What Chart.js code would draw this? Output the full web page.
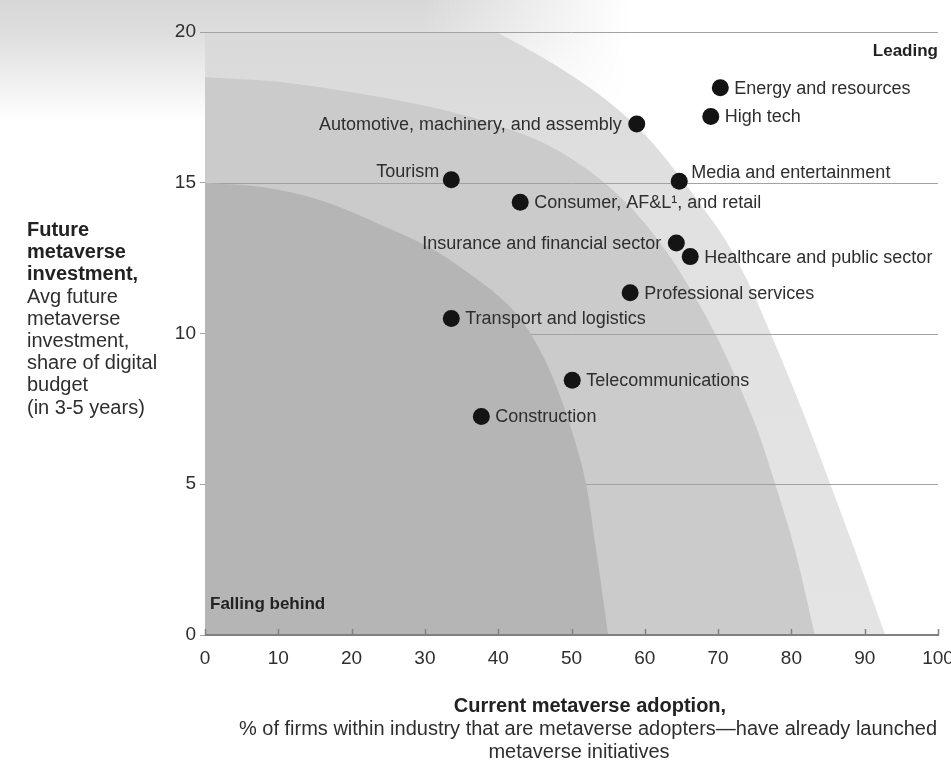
<!DOCTYPE html>
<html>
<head>
<meta charset="utf-8">
<script src="https://cdn.jsdelivr.net/npm/chart.js@4"></script>
<style>
  html, body { margin: 0; padding: 0; background: #ffffff; }
  #wrap { width: 951px; height: 761px; position: relative; }
</style>
</head>
<body>
<div id="wrap"><canvas id="chart"></canvas></div>
<script>
// Industries: current metaverse adoption (% of firms) vs. future investment (% of digital budget)
const industries = [
  'Energy and resources',
  'High tech',
  'Automotive, machinery, and assembly',
  'Tourism',
  'Media and entertainment',
  'Consumer, AF&L\u00b9, and retail',
  'Insurance and financial sector',
  'Healthcare and public sector',
  'Professional services',
  'Transport and logistics',
  'Telecommunications',
  'Construction'
];
const adoption   = [70.3, 69.0, 58.9, 33.6, 64.7, 43.0, 64.3, 66.2, 58.0, 33.6, 50.1, 37.7];
const investment = [18.15, 17.2, 16.95, 15.1, 15.05, 14.35, 13.0, 12.55, 11.35, 10.5, 8.45, 7.25];

// Where each industry name sits relative to its dot
const labelSide = ['right', 'right', 'left', 'above-left', 'above-right', 'right',
                   'left', 'right', 'right', 'right', 'right', 'right'];

const xTickValues = [0, 10, 20, 30, 40, 50, 60, 70, 80, 90, 100];
const yTickValues = [0, 5, 10, 15, 20];

// Outer edges of the three shaded maturity bands
const behindEdgeX  = [0, 8, 16, 24, 31, 36, 40, 43, 45, 47, 49, 50.5, 52, 53.5, 55];
const behindEdgeY  = [15, 14.85, 14.4, 13.6, 12.8, 12.0, 11.25, 10.5, 9.75, 8.8, 7.55, 6.4, 5.0, 2.6, 0];
const middleEdgeX  = [0, 10, 20, 30, 38, 45, 50, 54, 58, 61, 64, 67, 70, 73, 75.5, 77.8, 80.5, 83.2];
const middleEdgeY  = [18.5, 18.35, 18.0, 17.55, 17.05, 16.45, 15.8, 15.1, 14.2, 13.35, 12.35, 11.15, 9.8, 8.2, 6.7, 5.0, 2.8, 0];
const leadingEdgeX = [0, 20, 30, 38, 45, 51, 56, 60, 64, 68, 71, 74, 77, 80, 83, 86, 89.5, 92.8];
const leadingEdgeY = [22, 21.6, 21.0, 20.2, 19.3, 18.4, 17.5, 16.6, 15.45, 14.15, 13.1, 11.75, 10.1, 8.35, 6.5, 4.55, 2.25, 0];

const yTitleBold = ['Future', 'metaverse', 'investment,'];
const yTitleText = ['Avg future', 'metaverse', 'investment,', 'share of digital', 'budget', '(in 3-5 years)'];
const xTitleBold = 'Current metaverse adoption,';
const xTitleText = ['% of firms within industry that are metaverse adopters\u2014have already launched',
                    'metaverse initiatives'];

const FONT = '"Liberation Sans", Arial, sans-serif';
const TEXT = '#2e2e2e';
const AXIS = '#808080';

const toPoints = (xs, ys) => xs.map((x, i) => ({ x, y: ys[i] }));

const bandStyle = {
  type: 'line',
  showLine: true,
  pointRadius: 0,
  borderWidth: 0,
  fill: 'origin',
  cubicInterpolationMode: 'monotone'
};

// Soft grey glow in the upper-left corner behind the chart
const hazePlugin = {
  id: 'haze',
  beforeDraw(chart) {
    const ctx = chart.ctx;
    const W = 700, H = 120;
    const off = document.createElement('canvas');
    off.width = W; off.height = H;
    const o = off.getContext('2d');
    const v = o.createLinearGradient(0, 0, 0, H);
    v.addColorStop(0, '#d7d7d7');
    v.addColorStop(0.25, '#dddddd');
    v.addColorStop(0.5, '#e8e8e8');
    v.addColorStop(0.78, '#f4f4f4');
    v.addColorStop(1, '#ffffff');
    o.fillStyle = v;
    o.fillRect(0, 0, W, H);
    o.globalCompositeOperation = 'destination-in';
    const h = o.createLinearGradient(0, 0, W, 0);
    h.addColorStop(0, 'rgba(0,0,0,1)');
    h.addColorStop(0.6, 'rgba(0,0,0,1)');
    h.addColorStop(0.9, 'rgba(0,0,0,0)');
    o.fillStyle = h;
    o.fillRect(0, 0, W, H);
    ctx.save();
    ctx.fillStyle = '#ffffff';
    ctx.fillRect(0, 0, chart.width, chart.height);
    ctx.drawImage(off, 0, 0);
    ctx.restore();
  }
};

// Horizontal grid lines: drawn over the outer bands but under the "falling behind" band
const bandGridPlugin = {
  id: 'bandGrid',
  afterDatasetDraw(chart, args) {
    if (args.index !== 2) return;
    const { ctx, chartArea } = chart;
    const y = chart.scales.y;
    ctx.save();
    ctx.strokeStyle = '#a2a2a2';
    ctx.lineWidth = 1;
    yTickValues.forEach(v => {
      if (v === 0) return;
      const py = Math.round(y.getPixelForValue(v)) + 0.5;
      ctx.beginPath();
      ctx.moveTo(chartArea.left, py);
      ctx.lineTo(chartArea.right, py);
      ctx.stroke();
    });
    ctx.restore();
  }
};

// Industry names, corner captions
const labelPlugin = {
  id: 'pointLabels',
  afterDatasetsDraw(chart) {
    const { ctx, chartArea } = chart;
    const meta = chart.getDatasetMeta(0);
    ctx.save();
    ctx.font = '18px ' + FONT;
    ctx.fillStyle = TEXT;
    ctx.textBaseline = 'middle';
    meta.data.forEach((pt, i) => {
      const side = labelSide[i];
      let x = pt.x, y = pt.y;
      if (side === 'right') { ctx.textAlign = 'left'; x += 14; }
      else if (side === 'left') { ctx.textAlign = 'right'; x -= 15; }
      else if (side === 'above-left') { ctx.textAlign = 'right'; x -= 12; y -= 9; }
      else { ctx.textAlign = 'left'; x += 12; y -= 9; }
      ctx.fillText(industries[i], x, y + 1);
    });
    ctx.font = 'bold 17px ' + FONT;
    ctx.fillStyle = '#222';
    ctx.textAlign = 'right';
    ctx.fillText('Leading', chartArea.right, chartArea.top + 19);
    ctx.textAlign = 'left';
    ctx.fillText('Falling behind', chartArea.left + 5, chartArea.bottom - 31);
    ctx.restore();
  }
};

// Baseline, inward tick marks on the x axis and the two axis titles
const axisTextPlugin = {
  id: 'axisText',
  afterDraw(chart) {
    const { ctx, chartArea } = chart;
    const x = chart.scales.x;
    ctx.save();
    ctx.strokeStyle = AXIS;
    ctx.lineWidth = 2;
    ctx.beginPath();
    ctx.moveTo(chartArea.left, chartArea.bottom);
    ctx.lineTo(chartArea.right + 1, chartArea.bottom);
    ctx.stroke();
    ctx.lineWidth = 1.5;
    xTickValues.forEach(v => {
      const px = Math.round(x.getPixelForValue(v)) + 0.5;
      ctx.beginPath();
      ctx.moveTo(px, chartArea.bottom);
      ctx.lineTo(px, chartArea.bottom - 6);
      ctx.stroke();
    });

    ctx.fillStyle = '#222';
    ctx.textAlign = 'left';
    ctx.textBaseline = 'alphabetic';
    let by = 236;
    ctx.font = 'bold 20px ' + FONT;
    yTitleBold.forEach(t => { ctx.fillText(t, 27, by); by += 22.2; });
    ctx.font = '20px ' + FONT;
    ctx.fillStyle = TEXT;
    yTitleText.forEach(t => { ctx.fillText(t, 27, by); by += 22.2; });

    ctx.textAlign = 'center';
    ctx.fillStyle = '#222';
    ctx.font = 'bold 20px ' + FONT;
    ctx.fillText(xTitleBold, 590, 712);
    ctx.fillStyle = TEXT;
    ctx.font = '20px ' + FONT;
    ctx.fillText(xTitleText[0], 588, 735);
    ctx.fillText(xTitleText[1], 579, 758);
    ctx.restore();
  }
};

new Chart(document.getElementById('chart'), {
  type: 'scatter',
  data: {
    datasets: [
      {
        label: 'Industries',
        data: toPoints(adoption, investment),
        backgroundColor: '#141414',
        borderWidth: 0,
        pointRadius: 8.5,
        pointHoverRadius: 8.5
      },
      Object.assign({ label: 'Falling behind', data: toPoints(behindEdgeX, behindEdgeY),
                      backgroundColor: '#b5b5b5' }, bandStyle),
      Object.assign({ label: 'Middle', data: toPoints(middleEdgeX, middleEdgeY),
                      backgroundColor: '#cbcbcb' }, bandStyle),
      Object.assign({ label: 'Leading', data: toPoints(leadingEdgeX, leadingEdgeY),
                      backgroundColor: (c) => {
                        const area = c.chart.chartArea;
                        if (!area) return '#e2e2e2';
                        const g = c.chart.ctx.createLinearGradient(0, area.top, 0, area.bottom);
                        g.addColorStop(0, '#d9d9d9');
                        g.addColorStop(0.3, '#e1e1e1');
                        g.addColorStop(1, '#e4e4e4');
                        return g;
                      } }, bandStyle)
    ]
  },
  options: {
    responsive: true,
    maintainAspectRatio: false,
    devicePixelRatio: 1,
    animation: false,
    events: [],
    layout: { padding: { left: 0, right: 13, top: 32, bottom: 0 } },
    plugins: { legend: { display: false }, tooltip: { enabled: false } },
    scales: {
      x: {
        type: 'linear',
        min: 0, max: 100,
        afterFit: (s) => { s.height = 126; s.paddingRight = 0; s.paddingLeft = 0; },
        afterBuildTicks: (s) => { s.ticks = xTickValues.map(v => ({ value: v })); },
        grid: { display: false, drawTicks: false },
        border: { display: false },
        ticks: { color: TEXT, font: { family: FONT, size: 19 }, padding: 12, maxRotation: 0 }
      },
      y: {
        type: 'linear',
        min: 0, max: 20,
        afterFit: (s) => { s.width = 205; },
        afterBuildTicks: (s) => { s.ticks = yTickValues.map(v => ({ value: v })); },
        grid: { display: true, drawOnChartArea: false, drawTicks: true, tickLength: 5, color: '#a2a2a2' },
        border: { display: false },
        ticks: { color: TEXT, font: { family: FONT, size: 19 }, padding: 4 }
      }
    }
  },
  plugins: [hazePlugin, bandGridPlugin, labelPlugin, axisTextPlugin]
});
</script>
</body>
</html>
